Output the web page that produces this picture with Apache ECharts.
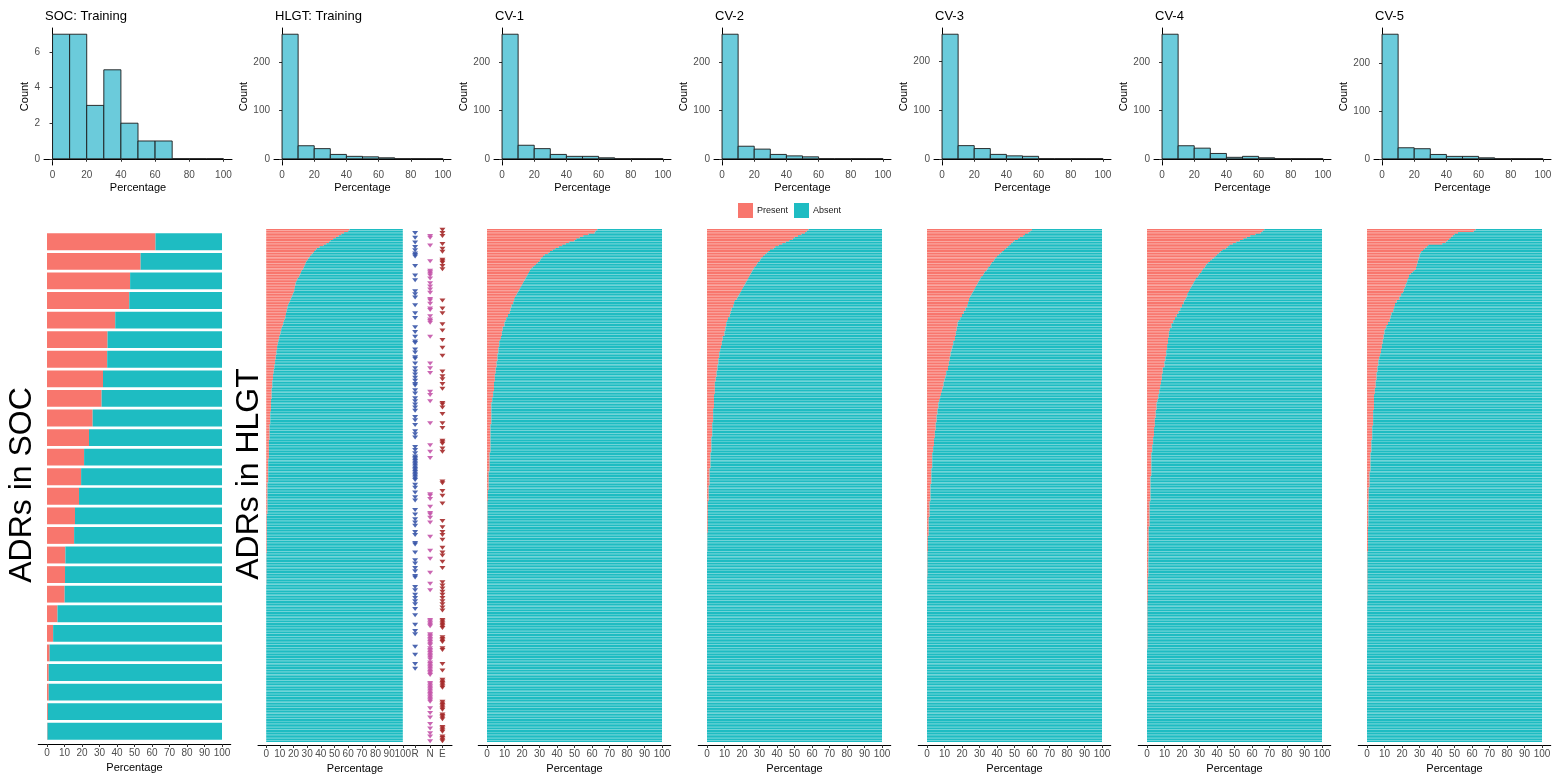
<!DOCTYPE html>
<html>
<head>
<meta charset="utf-8">
<title>ADRs in SOC / HLGT</title>
<script src="https://cdn.jsdelivr.net/npm/echarts@6/dist/echarts.min.js"></script>
<style>
  html, body { margin: 0; padding: 0; background: #fff; }
  #main { width: 1567px; height: 776px; }
</style>
</head>
<body>
<div id="main"></div>
<script>
// titles of the 7 columns
var panelTitles = ['SOC: Training', 'HLGT: Training', 'CV-1', 'CV-2', 'CV-3', 'CV-4', 'CV-5'];

// histogram bins (percentage) and counts per bin
var binEdges = [0, 10, 20, 30, 40, 50, 60, 70, 80, 90, 100];
var socHist = [7, 7, 3, 5, 2, 1, 1, 0, 0, 0];
var hlgtHist = [258, 27, 21, 9, 5, 4, 2, 0, 0, 0];
var cv1Hist = [258, 28, 21, 9, 5, 5, 2, 0, 0, 0];
var cv2Hist = [258, 26, 20, 9, 6, 4, 0, 0, 0, 0];
var cv3Hist = [256, 27, 21, 9, 6, 5, 0, 0, 0, 0];
var cv4Hist = [258, 27, 22, 11, 3, 5, 2, 0, 0, 0];
var cv5Hist = [260, 23, 21, 9, 5, 5, 2, 0, 0, 0];

// tick labels
var histPctTicks = [0, 20, 40, 60, 80, 100];
var barPctTicks = [0, 10, 20, 30, 40, 50, 60, 70, 80, 90, 100];
var socCountTicks = [0, 2, 4, 6];
var hlgtCountTicks = [0, 100, 200];
var groupNames = ['R', 'N', 'E'];
var groupPos = [109, 120, 129];

// % present per ADR, top row first (SOC: one value per row)
var socPresent = [62, 53.5, 47.5, 47, 39, 34.6, 34.4, 32, 31.2, 26.1, 24, 21.2, 19.5,
  18.3, 16, 15.5, 10.5, 10.3, 10.1, 6, 3.5, 1.5, 1, 1, 0.5, 0.3];

// HLGT / CV rows: plain number = one row, [value, n] = n rows with that value
var hlgtPresent = [61, 60, 57, 55, 53, 51, 49, 47, 46, 44, 42, 39, 37, 36, 35, 34, 33, 32, 31, 30.5,
  29.5, 29, 28.5, 28, 27.5, 27, 26, 25.5, 25, 24.5, 24, 23, 22.5, 22, 21.5, 21.5, 21, 21, 20.5, 20.5, 20,
  19.5, 19, 18.5, 18, 17.5, 17, 16.5, 16, 15.5, 15.5, 15, 15, 14.5, 14.5, 14, 14, 13.5, 13, 12.5, 12.5, 12, 11.5, 11, 11, 10.5, 10.5, 10,
  [9.5, 2], [9, 2], [8.5, 2], [8, 3], [7.5, 3], [7, 3], [6.5, 3], [6, 3], [5.5, 3], [5, 4], [4.5, 5], [4, 7],
  [3.5, 8], [3, 8], [2.5, 10], [2, 12], [1.5, 15], [1, 20], [0.5, 25], [0.2, 20], [0, 100]];

var cv1Present = [63, 62, 61.5, 58, 55, 53, 51, 50, 47, 45, 43, 41, 39, 37.5,
  36, 35, 33, 32, 31, 30.5, 30, 29, 28, 27, 26, 25, 24.5,
  24, 23.5, 23, 22.5, 22, 21.5, 21, 20.5, 20, 19.5, 19, 18.5, 18, 17.5, 17, 16.5, 16, 15.5, 15.5,
  [15, 2], [14, 2], [13.5, 2], [13, 2], [12, 2], [11, 2], [10.5, 1],
  [10, 3], [9, 3], [8.5, 3], [8, 2], [7.5, 1], [7, 4], [6.5, 4], [6, 5],
  [5.5, 4], [5, 4], [4.5, 5], [4, 6], [3.5, 4], [3, 3], [2.5, 14], [2, 18],
  [1.5, 12], [1, 12], [0.5, 7], [0.3, 20], [0.1, 12], [0, 121]];

var cv2Present = [58, 57, 56, 54, 52, 50, 49, 47, 45, 43, 41, 39, 38, 36,
  35, 34, 33, 32, 31, 30.5, 30, 29, 28.5, 28, 27, 26.5, 26,
  25.5, 25, 24.5, 24, 23.5, 23, 22.5, 22, 21.5, 21, 20.5, 20, 19.5, 19, 18.5, 18, 17.5, 17, 16,
  [15.5, 2], [15, 2], [14, 2], [13.5, 2], [13, 2], [12, 2], [11.5, 1],
  [11, 3], [10.5, 3], [10, 3], [9, 3], [8.5, 3], [8, 2], [7.5, 2],
  [7, 4], [6.5, 4], [6, 4], [5.5, 4], [5, 3], [4.5, 8], [4, 9], [3.5, 9],
  [3, 9], [2.5, 10], [2, 10], [1.5, 11], [1, 10], [0.5, 20], [0.2, 12], [0, 121]];

var cv3Present = [60, 59, 58, 56, 55, 53, 52, 50,
  49, 48, 47, 46, 45, 44, 43, 42, 41, 40, 39, 38.5, 38,
  37, 36.5, 36, 35, 34.5, 34, 33, 32.5, 32, 31, 30.5, 30,
  29.5, 29, 28.5, 28, 27.5, 27, 26.5, 26, 25.5, 25, 24.5, 24, 24,
  [23.5, 2], [23, 2], [22, 2], [21, 2], [20, 2], [19, 2], [18, 1],
  [17.5, 3], [17, 3], [16.5, 3], [16, 3], [15, 3], [14.5, 2], [14, 2],
  [13.5, 3], [13, 3], [12.5, 3], [12, 3], [11, 3], [10.5, 2], [10, 2],
  [9.5, 3], [9, 2], [8.5, 2], [8, 2], [7.5, 2], [7, 2],
  [6.5, 4], [6, 4], [5.5, 5], [5, 5], [4.5, 5], [4, 5], [3.5, 4],
  [3, 10], [2.5, 10], [2, 11], [1.5, 10], [1, 12], [0.5, 10], [0.3, 16], [0.1, 16], [0, 89]];

var cv4Present = [67, 66, 65, 62, 59, 57, 55, 53,
  51, 49, 47, 46, 45, 43, 42, 41, 40, 39, 38, 37, 36,
  35, 34, 33.5, 33, 32, 31.5, 31, 30, 29.5, 29, 28, 27.5,
  27, 26.5, 26, 25.5, 25, 24.5, 24, 23.5, 23, 23, 22.5, 22, 21.5,
  [21, 2], [20, 2], [19, 2], [18, 2], [17, 2], [16, 2], [15, 2], [14, 3], [13, 2],
  [12.5, 4], [12, 4], [11.5, 4], [11, 4], [10.5, 3],
  [10, 4], [9, 4], [8.5, 4], [8, 3], [7.5, 3], [7, 3], [6.5, 3], [6, 2],
  [5.5, 5], [5, 5], [4.5, 6], [4, 6], [3.5, 5], [3, 5],
  [2.5, 15], [2, 16], [1.5, 16], [1, 16], [0.8, 16], [0.5, 16], [0.3, 30], [0, 59]];

var cv5Present = [62, 61, 52, 50, 49, 48, 47, 46, 45, 43, 35,
  34, 33, 32, 31, 30.5, 30, 30, 29.5, 29.5, 29, 29, 28.5, 28.5, 28, 28,
  27, 26, 25, 24, 24, 23.5, 23, 23, 22.5, 22, 22, 21.5, 21, 21, 20.5,
  [19.5, 2], [18.5, 2], [17, 2], [16, 2], [15.5, 2], [15, 2], [14, 2], [13.5, 2], [13, 2], [12, 2], [11, 2], [10.5, 1],
  [10, 3], [9.5, 3], [9, 3], [8.5, 3], [8, 3], [7.5, 2], [7, 2],
  [6.5, 4], [6, 4], [5.5, 5], [5, 5], [4.5, 4],
  [4, 10], [3.5, 10], [3, 9], [2.5, 8], [2, 12], [1.5, 10], [1, 9],
  [0.8, 16], [0.6, 16], [0.3, 32], [0.1, 30], [0, 59]];

// HLGT rows that carry an R / N / E mark (row index from top)
var rRows = [2, 5, 8, 11, 13, 15, 16, 17, 23, 29, 32, 39, 41, 43, 48, 53, 56, 62, 65, 68, 71, 72, 76, 78, 81, 82,
  85, 88, 90, 92, 94, 96, 98, 99, 102, 104, 107, 109, 111, 113, 115, 119, 121, 124, 128, 130, 132, 138, 140,
  142, 144, 145, 146, 147, 148, 149, 150, 151, 152, 153, 154, 155, 156, 157, 158, 159, 162, 164, 167, 170, 172,
  178, 181, 184, 186, 188, 192, 194, 199, 200, 205, 210, 212, 215, 217, 220, 221, 227, 229, 232, 234, 236, 238,
  241, 245, 251, 255, 257, 265, 270, 276, 279];
var nRows = [4, 5, 10, 20, 26, 27, 28, 29, 31, 34, 36, 38, 40, 44, 45, 47, 50, 51, 55, 57, 58, 59, 68, 85, 88, 91,
  103, 105, 109, 123, 137, 141, 145, 168, 169, 171, 176, 180, 181, 183, 186, 195, 204, 209, 218, 225, 229,
  248, 249, 250, 251, 252, 257, 258, 259, 260, 261, 262, 263, 264, 266, 267, 268, 269, 270, 271, 272, 273, 275,
  276, 277, 278, 279, 280, 281, 282, 283, 288, 289, 290, 291, 292, 293, 294, 295, 296, 297, 298, 299, 300,
  304, 307, 310, 314, 317, 320, 322, 325];
var eRows = [0, 2, 4, 9, 12, 14, 19, 20, 21, 23, 25, 45, 50, 53, 60, 64, 70, 75, 80, 90, 93, 95, 98, 101, 110, 111,
  113, 117, 123, 126, 134, 135, 136, 139, 141, 160, 161, 166, 169, 174, 185, 189, 192, 194, 197, 202, 205, 207,
  211, 215, 224, 226, 228, 230, 232, 234, 236, 238, 240, 242, 248, 249, 250, 251, 252, 253, 259, 260, 261, 262,
  266, 267, 276, 280, 286, 287, 288, 289, 290, 291, 300, 301, 302, 303, 304, 305, 308, 309, 310, 311, 316, 317,
  318, 319, 322, 323, 324, 325];

var PRESENT = '#F8766D', ABSENT = '#1EBCC2', HISTFILL = '#6BCBDB';
var markColors = ['#3A56A8', '#C455AA', '#A52A2A'];

function expand(runs) {
  var out = [];
  runs.forEach(function (r) {
    if (typeof r === 'number') out.push(r);
    else for (var k = 0; k < r[1]; k++) out.push(r[0]);
  });
  return out;
}

var hists = [socHist, hlgtHist, cv1Hist, cv2Hist, cv3Hist, cv4Hist, cv5Hist];
var presents = [socPresent, expand(hlgtPresent), expand(cv1Present), expand(cv2Present),
  expand(cv3Present), expand(cv4Present), expand(cv5Present)];

var axisBlack = { show: true, lineStyle: { color: '#000', width: 1 } };
var tickLab = { fontSize: 10, color: '#4D4D4D' };
var nameTxt = { fontSize: 11, color: '#000' };

var titles = [], grids = [], xAxes = [], yAxes = [], series = [];

// ---- top row: histograms ----
hists.forEach(function (h, i) {
  var left = i === 0 ? 44 : (i === 1 ? 274 : 494 + 220 * (i - 2));
  var width = i === 0 ? 188 : 177;
  var mx = Math.max.apply(null, h);
  var cticks = i === 0 ? socCountTicks : hlgtCountTicks;
  titles.push({
    text: panelTitles[i], left: left + 1, top: 10, padding: 0,
    textStyle: { fontSize: 13, fontWeight: 'normal', color: '#000' }
  });
  grids.push({ left: left, top: 28, width: width, height: 137, outerBoundsMode: 'none' });
  xAxes.push({
    gridIndex: i, type: 'value', min: -5, max: 105,
    axisLine: axisBlack,
    axisTick: { show: true, length: 3, customValues: histPctTicks, lineStyle: { color: '#333' } },
    axisLabel: Object.assign({ customValues: histPctTicks, margin: 5 }, tickLab),
    splitLine: { show: false },
    name: 'Percentage', nameLocation: 'middle', nameGap: 17, nameTextStyle: nameTxt
  });
  yAxes.push({
    gridIndex: i, type: 'value', min: -mx * 0.05, max: mx * 1.05,
    axisLine: axisBlack,
    axisTick: { show: true, length: 3, customValues: cticks, lineStyle: { color: '#333' } },
    axisLabel: Object.assign({ customValues: cticks, margin: 4 }, tickLab),
    splitLine: { show: false },
    name: 'Count', nameLocation: 'middle', nameGap: i === 0 ? 9 : 21, nameTextStyle: nameTxt
  });
  var data = h.map(function (c, b) { return [binEdges[b], binEdges[b + 1], c]; });
  series.push({
    type: 'custom', name: 'hist' + i, xAxisIndex: i, yAxisIndex: i, data: data,
    encode: { x: [0, 1], y: 2 },
    renderItem: function (params, api) {
      var p0 = api.coord([api.value(0), api.value(2)]);
      var p1 = api.coord([api.value(1), 0]);
      return {
        type: 'rect',
        shape: { x: p0[0], y: p0[1], width: p1[0] - p0[0], height: p1[1] - p0[1] },
        style: { fill: HISTFILL, stroke: '#1a1a1a', lineWidth: 0.9 }
      };
    }
  });
});

// ---- bottom row: stacked present / absent bars ----
presents.forEach(function (vals, j) {
  var g = 7 + j;
  var left = j === 0 ? 38.25 : (j === 1 ? 258 : 478.25 + 220 * (j - 2));
  var width = j === 1 ? 194 : 192.5;
  var top = j === 0 ? 232 : 229;
  var height = j === 0 ? 509 : 513;
  grids.push({ left: left, top: top, width: width, height: height, outerBoundsMode: 'none' });
  var cats = vals.map(function (v, k) { return 'row' + k; });
  var ticks = j === 1 ? barPctTicks.concat(groupPos) : barPctTicks;
  xAxes.push({
    gridIndex: g, type: 'value', min: j === 1 ? -6 : -5, max: j === 1 ? 136 : 105, offset: 3,
    axisLine: axisBlack,
    axisTick: { show: true, length: 3, customValues: ticks, lineStyle: { color: '#333' } },
    axisLabel: Object.assign({
      customValues: ticks, margin: 4,
      formatter: function (v) {
        var gi = groupPos.indexOf(v);
        return gi >= 0 ? groupNames[gi] : String(v);
      }
    }, tickLab),
    splitLine: { show: false },
    name: 'Percentage', nameLocation: 'middle', nameGap: 16, nameTextStyle: nameTxt
  });
  yAxes.push({
    gridIndex: g, type: 'category', data: cats, inverse: true,
    axisLine: { show: false }, axisTick: { show: false }, axisLabel: { show: false },
    splitLine: { show: false }
  });
  var gap = j === 0 ? '14%' : '8%';
  series.push({
    type: 'bar', name: 'Present', xAxisIndex: g, yAxisIndex: g, stack: 's' + j,
    barCategoryGap: gap, itemStyle: { color: PRESENT }, data: vals
  });
  series.push({
    type: 'bar', name: 'Absent', xAxisIndex: g, yAxisIndex: g, stack: 's' + j,
    barCategoryGap: gap, itemStyle: { color: ABSENT },
    data: vals.map(function (v) { return 100 - v; })
  });
});

// R / N / E marks next to the HLGT panel
[rRows, nRows, eRows].forEach(function (rows, m) {
  series.push({
    type: 'scatter', name: groupNames[m], xAxisIndex: 8, yAxisIndex: 8,
    symbol: 'path://M0,0L10,0L5,7Z', symbolSize: [6, 4],
    itemStyle: { color: markColors[m], opacity: 0.9 },
    data: rows.map(function (r) { return [groupPos[m], r]; })
  });
});

var chart = echarts.init(document.getElementById('main'));
chart.setOption({
  animation: false,
  textStyle: { fontFamily: 'Liberation Sans, Arial, sans-serif' },
  title: titles,
  legend: {
    data: ['Present', 'Absent'], left: 738, top: 203, padding: 0,
    icon: 'rect', itemWidth: 15, itemHeight: 15, itemGap: 6,
    textStyle: { fontSize: 9, color: '#1a1a1a', padding: [0, 0, 0, -1] }
  },
  grid: grids,
  xAxis: xAxes,
  yAxis: yAxes,
  series: series,
  graphic: [
    { type: 'text', x: 22, y: 485, rotation: Math.PI / 2,
      style: { text: 'ADRs in SOC', fontSize: 32, fill: '#000', align: 'center', verticalAlign: 'middle',
        fontFamily: 'Liberation Sans, Arial, sans-serif' } },
    { type: 'text', x: 249, y: 474, rotation: Math.PI / 2,
      style: { text: 'ADRs in HLGT', fontSize: 32, fill: '#000', align: 'center', verticalAlign: 'middle',
        fontFamily: 'Liberation Sans, Arial, sans-serif' } }
  ]
});
</script>
</body>
</html>
